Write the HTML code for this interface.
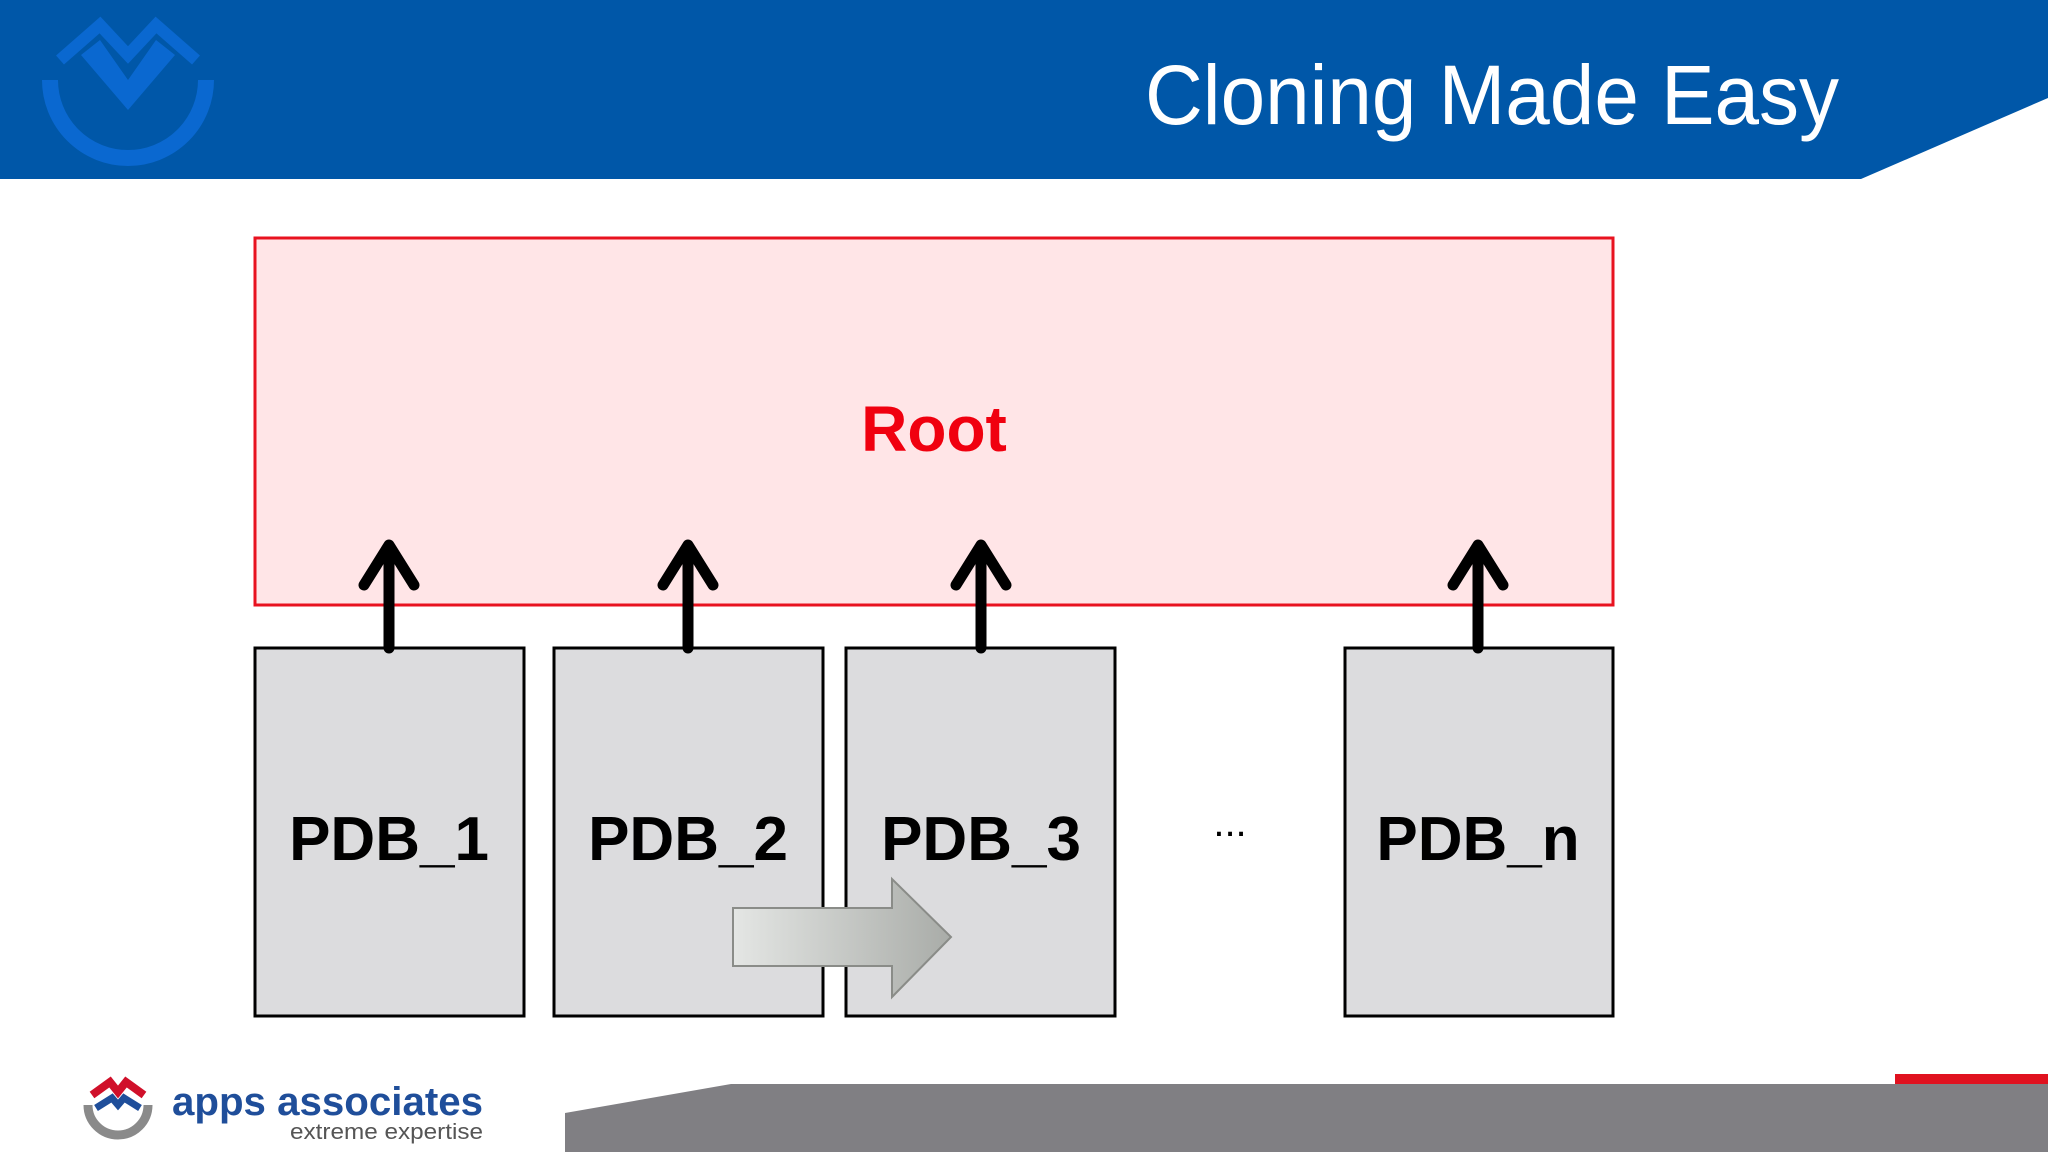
<!DOCTYPE html>
<html><head><meta charset="utf-8"><style>html,body{margin:0;padding:0;background:#fff}svg{display:block}</style></head>
<body>
<svg width="2048" height="1152" viewBox="0 0 2048 1152" xmlns="http://www.w3.org/2000/svg">
<defs>
<linearGradient id="ga" x1="0" x2="1" y1="0" y2="0"><stop offset="0" stop-color="#e4e6e4"/><stop offset="1" stop-color="#a9aca8"/></linearGradient>
</defs>
<polygon points="0,0 2048,0 2048,98 1861,179 0,179" fill="#0057A8"/>
<g fill="none" stroke="#0A68D0" stroke-width="16">
<path d="M50,80 A78,78 0 0 0 206,80"/>
</g>
<path d="M100,40 L128,80 L156,40 L175,55 L128,110 L81,55 Z" fill="#0A68D0"/>
<path d="M60,60 L100,25 L128,55 L156,25 L196,60" fill="none" stroke="#0A68D0" stroke-width="12"/>
<text x="1145" y="124" font-family="Liberation Sans, sans-serif" font-size="84" fill="#fff" textLength="694" lengthAdjust="spacingAndGlyphs">Cloning Made Easy</text>
<rect x="255" y="238" width="1358" height="367" fill="#FFE5E7" stroke="#E8121F" stroke-width="3"/>
<text x="934" y="451" text-anchor="middle" font-family="Liberation Sans, sans-serif" font-weight="bold" font-size="64" fill="#F0000F">Root</text>
<g fill="#DCDCDE" stroke="#000" stroke-width="3">
<rect x="255" y="648" width="269" height="368"/>
<rect x="554" y="648" width="269" height="368"/>
<rect x="846" y="648" width="269" height="368"/>
<rect x="1345" y="648" width="268" height="368"/>
</g>
<g font-family="Liberation Sans, sans-serif" font-weight="bold" font-size="62" fill="#000" text-anchor="middle">
<text x="389" y="860">PDB_1</text>
<text x="688" y="860">PDB_2</text>
<text x="981" y="860">PDB_3</text>
<text x="1478" y="860">PDB_n</text>
</g>
<text x="1230" y="836" text-anchor="middle" font-family="Liberation Sans, sans-serif" font-size="40" fill="#000">...</text>
<g stroke="#000" stroke-width="11" fill="none" stroke-linecap="round" stroke-linejoin="round">
<path d="M389,648 V548 M364,585 L389,545 L414,585"/>
<path d="M688,648 V548 M663,585 L688,545 L713,585"/>
<path d="M981,648 V548 M956,585 L981,545 L1006,585"/>
<path d="M1478,648 V548 M1453,585 L1478,545 L1503,585"/>
</g>
<polygon points="733,908 892,908 892,879 951,937 892,997 892,966 733,966" fill="url(#ga)" stroke="#8a8c88" stroke-width="2"/>
<polygon points="565,1113 731,1084 2048,1084 2048,1152 565,1152" fill="#807F83"/>
<rect x="1895" y="1074" width="153" height="10" fill="#E0121F"/>
<path d="M88,1105 A30,30 0 0 0 148,1105" fill="none" stroke="#8a8a8a" stroke-width="9"/>
<path d="M92,1095 L110,1082 L118,1092 L126,1082 L144,1095" fill="none" stroke="#D0102A" stroke-width="8"/>
<path d="M96,1108 L112,1098 L118,1105 L124,1098 L140,1108" fill="none" stroke="#1F4E9A" stroke-width="7"/>
<text x="172" y="1115" font-family="Liberation Sans, sans-serif" font-weight="bold" font-size="40" fill="#1F4E9A" textLength="311" lengthAdjust="spacingAndGlyphs">apps associates</text>
<text x="290" y="1139" font-family="Liberation Sans, sans-serif" font-size="22" fill="#555" textLength="193" lengthAdjust="spacingAndGlyphs">extreme expertise</text>
</svg>
</body></html>
